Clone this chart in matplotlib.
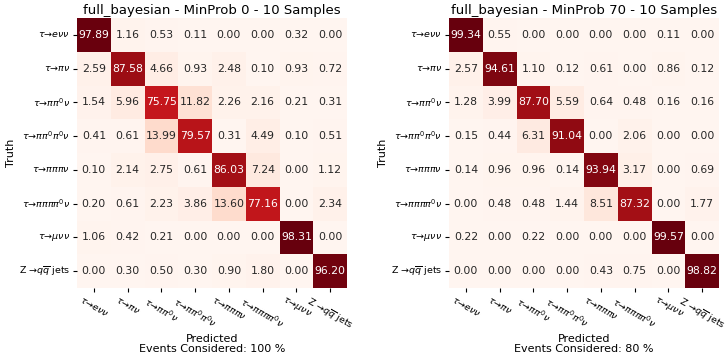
import numpy as np
import matplotlib
matplotlib.use("Agg")
import matplotlib.pyplot as plt
import seaborn as sns

# Class labels
labels = [
    r"$\tau$→$e\nu\nu$",
    r"$\tau$→$\pi\nu$",
    r"$\tau$→$\pi\pi^0\nu$",
    r"$\tau$→$\pi\pi^0\pi^0\nu$",
    r"$\tau$→$\pi\pi\pi\nu$",
    r"$\tau$→$\pi\pi\pi\pi^0\nu$",
    r"$\tau$→$\mu\nu\nu$",
    r"Z →$q\overline{q}$ jets",
]

titles = [
    "full_bayesian - MinProb 0 - 10 Samples",
    "full_bayesian - MinProb 70 - 10 Samples",
]
xlabels = [
    "Predicted\nEvents Considered: 100 %",
    "Predicted\nEvents Considered: 80 %",
]

# Confusion matrices (rows = truth, cols = predicted), in %
cm_minprob0 = [
    [97.89, 1.16, 0.53, 0.11, 0.00, 0.00, 0.32, 0.00],
    [2.59, 87.58, 4.66, 0.93, 2.48, 0.10, 0.93, 0.72],
    [1.54, 5.96, 75.75, 11.82, 2.26, 2.16, 0.21, 0.31],
    [0.41, 0.61, 13.99, 79.57, 0.31, 4.49, 0.10, 0.51],
    [0.10, 2.14, 2.75, 0.61, 86.03, 7.24, 0.00, 1.12],
    [0.20, 0.61, 2.23, 3.86, 13.60, 77.16, 0.00, 2.34],
    [1.06, 0.42, 0.21, 0.00, 0.00, 0.00, 98.31, 0.00],
    [0.00, 0.30, 0.50, 0.30, 0.90, 1.80, 0.00, 96.20],
]
cm_minprob70 = [
    [99.34, 0.55, 0.00, 0.00, 0.00, 0.00, 0.11, 0.00],
    [2.57, 94.61, 1.10, 0.12, 0.61, 0.00, 0.86, 0.12],
    [1.28, 3.99, 87.70, 5.59, 0.64, 0.48, 0.16, 0.16],
    [0.15, 0.44, 6.31, 91.04, 0.00, 2.06, 0.00, 0.00],
    [0.14, 0.96, 0.96, 0.14, 93.94, 3.17, 0.00, 0.69],
    [0.00, 0.48, 0.48, 1.44, 8.51, 87.32, 0.00, 1.77],
    [0.22, 0.00, 0.22, 0.00, 0.00, 0.00, 99.57, 0.00],
    [0.00, 0.00, 0.00, 0.00, 0.43, 0.75, 0.00, 98.82],
]

W, H = 726, 359
fig = plt.figure(figsize=(W / 100, H / 100), dpi=100)

lefts = [77, 449]
for left, cm, title, xl in zip(lefts, [cm_minprob0, cm_minprob70], titles, xlabels):
    ax = fig.add_axes([left / W, (H - 288) / H, 270 / W, 270 / H])
    sns.heatmap(np.array(cm), annot=True, fmt=".2f", cmap="Reds", cbar=False,
                ax=ax, annot_kws={"fontsize": 7.8},
                xticklabels=labels, yticklabels=labels)
    ax.set_title(title, fontsize=9.5, pad=3)
    ax.set_xlabel(xl, fontsize=8, linespacing=1.0, labelpad=1)
    ax.set_ylabel("Truth", fontsize=8, labelpad=2)
    ax.tick_params(axis="both", labelsize=6.8, length=3, width=0.8, pad=2)
    plt.setp(ax.get_xticklabels(), rotation=-30, ha="center")
    plt.setp(ax.get_yticklabels(), rotation=0)

fig.savefig("out.png", dpi=100)
